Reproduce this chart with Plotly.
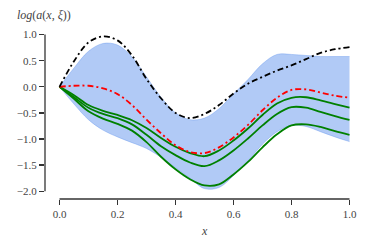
import plotly.graph_objects as go

x_vals = [0.0, 0.05, 0.10, 0.15, 0.20, 0.25, 0.30, 0.35, 0.40, 0.45, 0.50,
          0.55, 0.60, 0.65, 0.70, 0.75, 0.80, 0.85, 0.90, 0.95, 1.0]

band_upper = [0.0, 0.36, 0.68, 0.83, 0.80, 0.57, 0.19, -0.20, -0.50, -0.63, -0.60,
              -0.42, -0.14, 0.14, 0.44, 0.62, 0.62, 0.60, 0.58, 0.58, 0.58]
band_lower = [0.0, -0.33, -0.63, -0.83, -0.96, -1.07, -1.18, -1.35, -1.55, -1.75, -1.95,
              -1.93, -1.70, -1.42, -1.10, -0.86, -0.74, -0.76, -0.86, -0.96, -1.05]

green_top = [0.0, -0.16, -0.35, -0.46, -0.54, -0.64, -0.79, -0.98, -1.15, -1.27, -1.33,
             -1.22, -1.03, -0.80, -0.54, -0.32, -0.21, -0.20, -0.26, -0.33, -0.40]
green_mid = [0.0, -0.20, -0.40, -0.52, -0.60, -0.72, -0.92, -1.14, -1.31, -1.45, -1.52,
             -1.41, -1.22, -0.99, -0.74, -0.52, -0.39, -0.40, -0.48, -0.56, -0.635]
green_bot = [0.0, -0.23, -0.47, -0.61, -0.71, -0.84, -1.06, -1.34, -1.58, -1.77, -1.89,
             -1.87, -1.68, -1.44, -1.16, -0.91, -0.74, -0.72, -0.77, -0.85, -0.92]

red_curve = [0.0, 0.02, 0.02, -0.03, -0.14, -0.35, -0.63, -0.89, -1.12, -1.25, -1.27,
             -1.16, -0.97, -0.73, -0.45, -0.21, -0.06, -0.05, -0.11, -0.17, -0.21]
black_curve = [0.0, 0.49, 0.85, 0.965, 0.89, 0.60, 0.15, -0.22, -0.50, -0.60, -0.52,
               -0.35, -0.13, 0.06, 0.19, 0.31, 0.41, 0.53, 0.65, 0.72, 0.76]

x_ticks = [0.0, 0.2, 0.4, 0.6, 0.8, 1.0]
y_ticks = [-2.0, -1.5, -1.0, -0.5, 0.0, 0.5, 1.0]

band_col = "rgba(100,149,237,0.5)"
axis_col = "#333333"
font_fam = "Liberation Serif"
tick_font = dict(family=font_fam, size=11, color="#444444")

fig = go.Figure()
fig.add_trace(go.Scatter(x=x_vals, y=band_lower, mode="lines", line=dict(color=band_col, width=0.8, shape="spline"),
                         showlegend=False, hoverinfo="skip"))
fig.add_trace(go.Scatter(x=x_vals, y=band_upper, mode="lines", fill="tonexty", fillcolor=band_col,
                         line=dict(color=band_col, width=0.8, shape="spline"), showlegend=False, hoverinfo="skip"))
for g in (green_top, green_mid, green_bot):
    fig.add_trace(go.Scatter(x=x_vals, y=g, mode="lines", line=dict(color="#008000", width=1.8, shape="spline"),
                             showlegend=False))
fig.add_trace(go.Scatter(x=x_vals, y=red_curve, mode="lines",
                         line=dict(color="#ff0000", width=1.8, shape="spline", dash="6px,3px,2px,3px"), showlegend=False))
fig.add_trace(go.Scatter(x=x_vals, y=black_curve, mode="lines",
                         line=dict(color="#000000", width=1.8, shape="spline", dash="6px,3px,2px,3px"), showlegend=False))

fig.update_layout(
    width=374, height=246,
    margin=dict(l=45, r=10, t=32, b=47, autoexpand=False),
    paper_bgcolor="white", plot_bgcolor="white",
    font=dict(family=font_fam, size=11, color="#444444"),
    xaxis=dict(range=[-0.05, 1.05], tickvals=x_ticks, ticktext=[f"{v:.1f}" for v in x_ticks],
               showgrid=False, zeroline=False, showline=False, ticks="outside", ticklen=5,
               tickwidth=1.3, tickcolor=axis_col, tickfont=tick_font, automargin=False),
    yaxis=dict(range=[-2.15, 1.05], tickvals=y_ticks,
               ticktext=[("\u2212" if v < 0 else "") + f"{abs(v):.1f}" for v in y_ticks],
               showgrid=False, zeroline=False, showline=False, ticks="outside", ticklen=5,
               tickwidth=1.3, tickcolor=axis_col, tickfont=tick_font, automargin=False),
    shapes=[
        dict(type="line", xref="paper", yref="y", x0=0, x1=0, y0=-2.0, y1=1.0,
             line=dict(color=axis_col, width=1.3)),
        dict(type="line", xref="x", yref="paper", x0=0, x1=1, y0=0, y1=0,
             line=dict(color=axis_col, width=1.3)),
    ],
    annotations=[
        dict(text="<i>log</i>(<i>a</i>(<i>x</i>, <i>ξ</i>))", xref="paper", yref="paper",
             x=-0.003, y=1.102, xanchor="center", yanchor="middle", showarrow=False,
             font=dict(family=font_fam, size=12, color="#444444")),
        dict(text="<i>x</i>", xref="x", yref="paper", x=0.5, y=-0.192, xanchor="center",
             yanchor="middle", showarrow=False, font=dict(family=font_fam, size=12, color="#444444")),
    ],
)

fig.write_html("out.html", config={"displayModeBar": False, "staticPlot": True},
               post_script="document.body.style.margin='0';document.body.style.padding='0';")
